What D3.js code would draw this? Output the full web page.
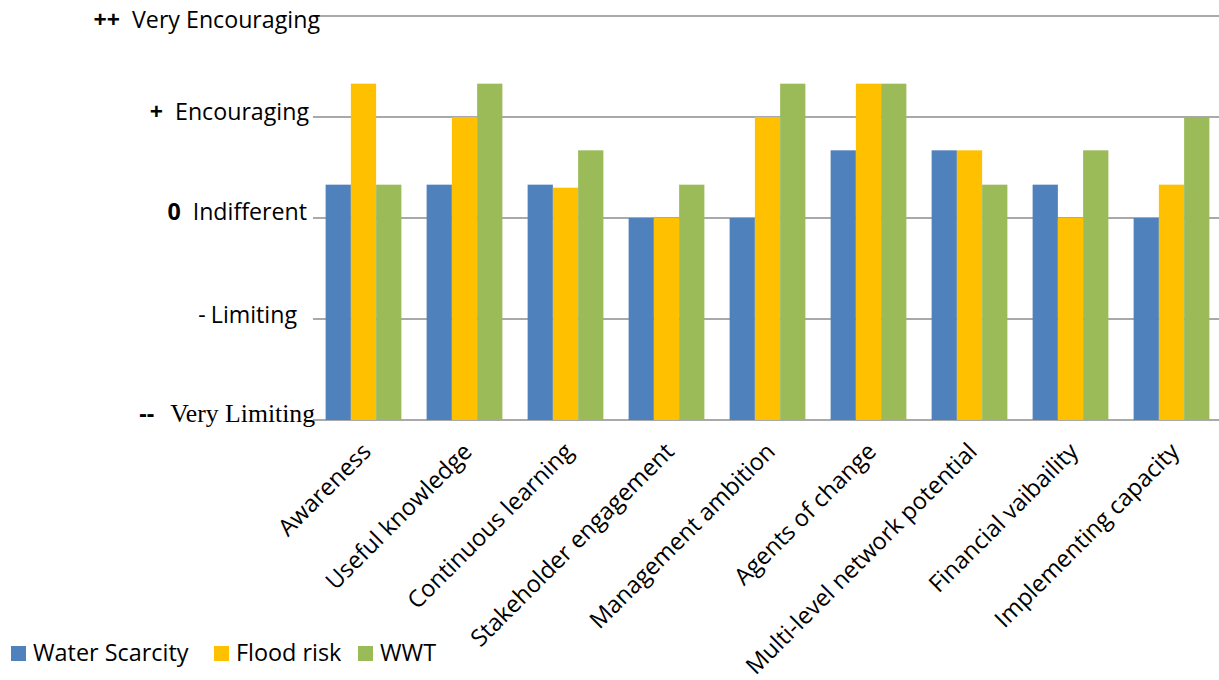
<!DOCTYPE html>
<html>
<head>
<meta charset="utf-8">
<script src="https://cdn.jsdelivr.net/npm/d3@7"></script>
<style>
  html, body { margin: 0; padding: 0; background: #fff; }
  svg { display: block; }
  text { font-family: "Open Sans", sans-serif; fill: #000; }
</style>
</head>
<body>
<svg id="chart" width="1219" height="680"></svg>
<script>
// ---- data ----
const categories = ["Awareness", "Useful knowledge", "Continuous learning", "Stakeholder engagement",
  "Management ambition", "Agents of change", "Multi-level network potential", "Financial vaibaility",
  "Implementing capacity"];
const seriesNames = ["Water Scarcity", "Flood risk", "WWT"];
const waterScarcity = [0.33, 0.33, 0.33, 0, 0, 0.67, 0.67, 0.33, 0];
const floodRisk     = [1.33, 1.0, 0.3, 0, 1.0, 1.33, 0.67, 0, 0.33];
const wwt           = [0.33, 1.33, 0.67, 0.33, 1.33, 1.33, 0.33, 0.67, 1.0];
const tickValues = [2, 1, 0, -1, -2];
const tickSymbols = ["++", "+", "0", "-", "--"];
const tickWords = ["Very Encouraging", "Encouraging", "Indifferent", "Limiting", "Very Limiting"];

// ---- layout / style ----
const colors = ["#4F81BD", "#FFC000", "#9BBB59"];
const plotLeft = 313, plotRight = 1222, plotTop = 16, plotBottom = 420;
const svg = d3.select("#chart");

const y = d3.scaleLinear().domain([-2, 2]).range([plotBottom, plotTop]);
const x0 = d3.scaleBand().domain(categories).range([plotLeft, plotRight]).paddingInner(0.25).paddingOuter(0.125);
const x1 = d3.scaleBand().domain(seriesNames).range([0, x0.bandwidth()]);
const color = d3.scaleOrdinal().domain(seriesNames).range(colors);

const seriesValues = [waterScarcity, floodRisk, wwt];
const data = categories.map((c, i) => ({ cat: c, vals: seriesNames.map((s, j) => ({ s, v: seriesValues[j][i] })) }));

// gridlines
svg.append("g").selectAll("line").data(tickValues).join("line")
  .attr("x1", plotLeft).attr("x2", 1219)
  .attr("y1", d => y(d)).attr("y2", d => y(d))
  .attr("stroke", "#8c8c8c").attr("stroke-width", 1.6);

// bars
svg.append("g").selectAll("g").data(data).join("g")
  .attr("transform", d => `translate(${x0(d.cat)},0)`)
  .selectAll("rect").data(d => d.vals).join("rect")
  .attr("x", d => x1(d.s))
  .attr("width", x1.bandwidth())
  .attr("y", d => y(d.v))
  .attr("height", d => y(-2) - y(d.v))
  .attr("fill", d => color(d.s));

// y labels (hand-placed text boxes in the original)
const labelEnd = [320, 309, 307, 297, 315];
const labelDy = [12, 3, 2, 4, 2];
tickValues.forEach((v, i) => {
  const t = svg.append("text")
    .attr("x", labelEnd[i]).attr("y", y(v) + labelDy[i])
    .attr("text-anchor", "end")
    .style("font-size", "23.2px");
  t.append("tspan").attr("font-weight", i === 3 ? "normal" : "bold").text(tickSymbols[i]);
  const w = t.append("tspan").attr("dx", i === 3 ? 5 : (i === 4 ? 16 : 12)).text(tickWords[i]);
  if (i === 4) w.style("font-family", '"Liberation Serif", "Times New Roman", serif').style("font-size", "25.7px");
});

// x labels
svg.append("g").selectAll("text").data(categories).join("text")
  .attr("transform", d => `translate(${x0(d) + x0.bandwidth() / 2 + 9},${plotBottom + 33}) rotate(-45)`)
  .attr("text-anchor", "end")
  .style("font-size", "23.6px")
  .text(d => d);

// legend
const legendX = [11, 214, 358];
const lg = svg.append("g").selectAll("g").data(seriesNames).join("g")
  .attr("transform", (d, i) => `translate(${legendX[i]},646)`);
lg.append("rect").attr("width", 15).attr("height", 15).attr("fill", d => color(d));
lg.append("text").attr("x", 22).attr("y", 15).style("font-size", "23.4px").text(d => d);
</script>
</body>
</html>
